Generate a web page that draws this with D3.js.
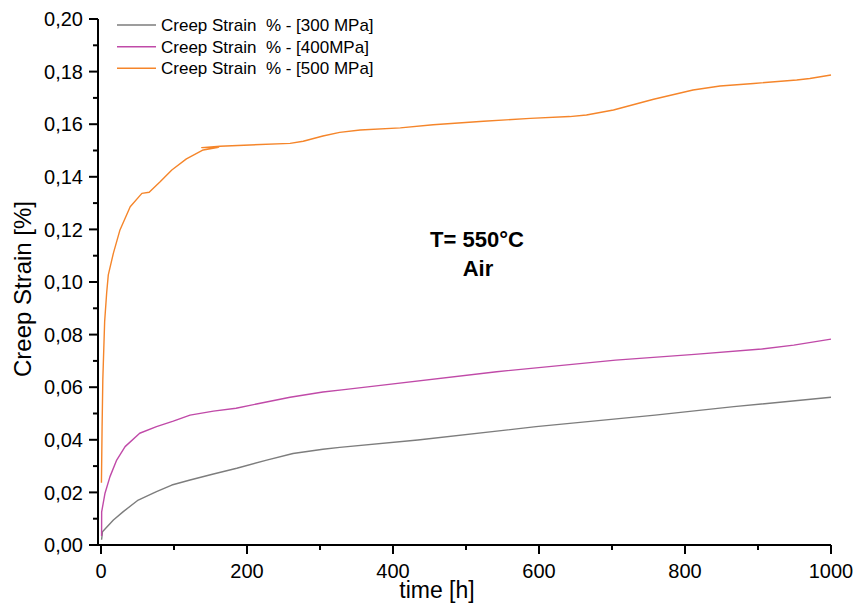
<!DOCTYPE html>
<html>
<head>
<meta charset="utf-8">
<script src="https://cdn.jsdelivr.net/npm/d3@7"></script>
<style>
  html, body { margin: 0; padding: 0; background: #fff; }
  svg { display: block; font-family: "Liberation Sans", Arial, sans-serif; }
</style>
</head>
<body>
<svg id="chart" width="855" height="604"></svg>
<script>
// ---- Data (time [h], creep strain [%]) ----
const seriesNames = ["Creep Strain  % - [300 MPa]", "Creep Strain  % - [400MPa]", "Creep Strain  % - [500 MPa]"];
const seriesColors = ["#7d7d7d", "#c04aa8", "#f5852a"];

const t300 = [0.8, 2, 17, 30.5, 51, 76, 97, 122, 154, 186, 227, 263, 304, 327, 434, 596, 759, 867, 1000];
const v300 = [0.002, 0.005, 0.0095, 0.0127, 0.0171, 0.0203, 0.0228, 0.0247, 0.027, 0.0292, 0.0323, 0.0348, 0.0364, 0.0371, 0.0399, 0.045, 0.0494, 0.0526, 0.0562];

const t400 = [0.8, 0.9, 5.5, 12.3, 21.5, 33, 53, 76, 99, 122, 154, 185, 213, 259, 304, 330, 380, 542, 705, 813, 905, 949, 1000];
const v400 = [0.0034, 0.0126, 0.0197, 0.026, 0.0323, 0.0374, 0.0425, 0.045, 0.0471, 0.0494, 0.0509, 0.052, 0.0536, 0.0562, 0.0582, 0.059, 0.0606, 0.0659, 0.0703, 0.0725, 0.0745, 0.076, 0.0783];

const t500 = [0.6, 1.5, 2.5, 5, 7.8, 10, 17, 26, 40, 56, 66, 81, 97, 117, 140, 161, 138, 163, 204, 259, 277, 304, 327, 355, 410, 455, 524, 588, 642, 665, 702, 757, 811, 848, 894, 953, 971, 1000];
const v500 = [0.0237, 0.045, 0.063, 0.085, 0.096, 0.1027, 0.111, 0.1198, 0.1286, 0.1337, 0.1341, 0.1381, 0.1426, 0.1468, 0.1502, 0.1512, 0.1511, 0.1516, 0.1521, 0.1527, 0.1535, 0.1555, 0.1569, 0.1578, 0.1586, 0.1598, 0.1611, 0.1622, 0.1629, 0.1635, 0.1654, 0.1695, 0.173, 0.1745, 0.1755, 0.1768, 0.1774, 0.1787];

const xMajorTicks = [0, 200, 400, 600, 800, 1000];
const xMinorTicks = [100, 300, 500, 700, 900];
const yMajorTicks = [0, 0.02, 0.04, 0.06, 0.08, 0.10, 0.12, 0.14, 0.16, 0.18, 0.20];
const yMinorTicks = [0.01, 0.03, 0.05, 0.07, 0.09, 0.11, 0.13, 0.15, 0.17, 0.19];

const xTitle = "time [h]";
const yTitle = "Creep Strain [%]";
const annotation = ["T= 550°C", "Air"];

// ---- Layout ----
const svg = d3.select("#chart");
const x = d3.scaleLinear().domain([0, 1000]).range([101, 831]);
const y = d3.scaleLinear().domain([0, 0.20]).range([545, 19]);
const axisLeftX = 98;
const axisBottomY = 545;

const fmtY = v => d3.format(".2f")(v).replace(".", ",");

// X axis
const gx = svg.append("g").attr("transform", `translate(0,${axisBottomY})`);
gx.append("line").attr("x1", axisLeftX).attr("x2", x(1000)).attr("y1", 0).attr("y2", 0)
  .attr("stroke", "#000").attr("stroke-width", 2);
gx.selectAll(".xmaj").data(xMajorTicks).join("line")
  .attr("x1", d => x(d)).attr("x2", d => x(d)).attr("y1", 0).attr("y2", 9)
  .attr("stroke", "#000").attr("stroke-width", 2);
gx.selectAll(".xmin").data(xMinorTicks).join("line")
  .attr("x1", d => x(d)).attr("x2", d => x(d)).attr("y1", 0).attr("y2", 5)
  .attr("stroke", "#000").attr("stroke-width", 2);
gx.selectAll(".xlab").data(xMajorTicks).join("text")
  .attr("x", d => x(d)).attr("y", 33)
  .attr("text-anchor", "middle").attr("font-size", 20).attr("fill", "#000")
  .text(d => d);

// Y axis
const gy = svg.append("g").attr("transform", `translate(${axisLeftX},0)`);
gy.append("line").attr("x1", 0).attr("x2", 0).attr("y1", y(0.20)).attr("y2", axisBottomY + 1)
  .attr("stroke", "#000").attr("stroke-width", 2);
gy.selectAll(".ymaj").data(yMajorTicks).join("line")
  .attr("x1", -9).attr("x2", 0).attr("y1", d => y(d)).attr("y2", d => y(d))
  .attr("stroke", "#000").attr("stroke-width", 2);
gy.selectAll(".ymin").data(yMinorTicks).join("line")
  .attr("x1", -5).attr("x2", 0).attr("y1", d => y(d)).attr("y2", d => y(d))
  .attr("stroke", "#000").attr("stroke-width", 2);
gy.selectAll(".ylab").data(yMajorTicks).join("text")
  .attr("x", -15).attr("y", d => y(d)).attr("dy", "0.36em")
  .attr("text-anchor", "end").attr("font-size", 20).attr("fill", "#000")
  .text(d => fmtY(d));

// Axis titles
svg.append("text").attr("x", 437).attr("y", 598).attr("text-anchor", "middle")
  .attr("font-size", 23).attr("fill", "#000").text(xTitle);
svg.append("text").attr("transform", "translate(31,289) rotate(-90)").attr("text-anchor", "middle")
  .attr("font-size", 24).attr("fill", "#000").text(yTitle);

// Lines
const series = [
  { name: seriesNames[0], color: seriesColors[0], pts: t300.map((t, i) => [t, v300[i]]) },
  { name: seriesNames[1], color: seriesColors[1], pts: t400.map((t, i) => [t, v400[i]]) },
  { name: seriesNames[2], color: seriesColors[2], pts: t500.map((t, i) => [t, v500[i]]) }
];
const line = d3.line().x(d => x(d[0])).y(d => y(d[1])).curve(d3.curveLinear);
svg.append("g").selectAll("path").data(series).join("path")
  .attr("d", d => line(d.pts)).attr("fill", "none")
  .attr("stroke", d => d.color).attr("stroke-width", 1.4).attr("stroke-linejoin", "round");

// Annotation
svg.append("text").attr("x", 477).attr("y", 247).attr("text-anchor", "middle")
  .attr("font-size", 22).attr("font-weight", "bold").attr("fill", "#000").text(annotation[0]);
svg.append("text").attr("x", 478).attr("y", 276).attr("text-anchor", "middle")
  .attr("font-size", 22).attr("font-weight", "bold").attr("fill", "#000").text(annotation[1]);

// Legend
const legY = [25, 46.7, 68.3];
const lg = svg.append("g");
series.forEach((s, i) => {
  lg.append("line").attr("x1", 117).attr("x2", 156).attr("y1", legY[i]).attr("y2", legY[i])
    .attr("stroke", s.color).attr("stroke-width", 1.4);
  lg.append("text").attr("x", 161).attr("y", legY[i] + 6).attr("font-size", 17)
    .attr("fill", "#000").attr("xml:space", "preserve").style("white-space", "pre").text(s.name);
});
</script>
</body>
</html>
